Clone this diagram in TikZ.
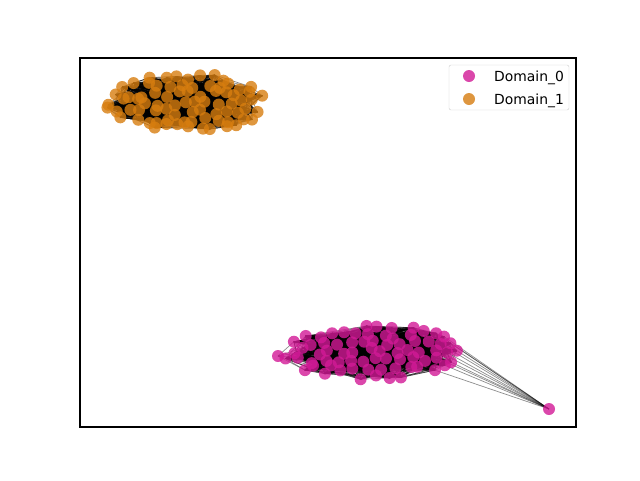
\documentclass[tikz,border=0pt]{standalone}
\usepackage{fontspec}
\setmainfont{DejaVu Sans}
\pgfdeclarelayer{edges}
\pgfsetlayers{edges,main}
\definecolor{domzero}{RGB}{210,25,150}
\definecolor{domone}{RGB}{215,125,15}
\definecolor{legendgray}{RGB}{204,204,204}
\tikzstyle{link} = [black,opacity=0.45,line width=0.7pt]
\newcount\nbcount
\newcount\nmcount

\begin{document}
\begin{tikzpicture}
		[
		x=1pt,y=-1pt,
		dom0/.style={
		circle,
		fill=domzero,
		fill opacity=0.8,
		inner sep=0pt,
		minimum size=12pt},
		dom1/.style={
		circle,
		fill=domone,
		fill opacity=0.8,
		inner sep=0pt,
		minimum size=12pt},
		legendtext/.style={anchor=base west,inner sep=0pt,font=\fontsize{13.9}{16}\selectfont}
		]
		\useasboundingbox (0,0) rectangle (640,480);
		\draw[line width=1.1pt] (80,58) rectangle (576,427);
		\pgfmathsetseed{5}
		% Domain_1 cluster
		\foreach \dy [count=\row] in {-26,-17.5,...,26}
			\foreach \dx in {-87,-75,...,87}{
				\pgfmathsetmacro\px{\dx+6*mod(\row,2)+8*(rnd-0.5)}
				\pgfmathsetmacro\py{\dy+8*(rnd-0.5)}
				\pgfmathparse{(\px/81)^2+(\py/30)^2<=1 ? 1 : 0}
				\ifnum\pgfmathresult=1
					\global\advance\nbcount by 1
					\node[dom1] (b\the\nbcount) at (186+\px,103+\py) {};
				\fi
			}
		\xdef\nbtotal{\the\nbcount}
		\begin{pgfonlayer}{edges}
		\foreach \i in {1,...,\nbtotal}
			\foreach \k in {1,...,28}{
				\pgfmathtruncatemacro\j{random(1,\nbtotal)}
				\draw[link] (b\i.center) -- (b\j.center);
			}
		\end{pgfonlayer}
		% Domain_0 cluster, with its two outer nodes
		\node[dom0] (m0) at (278,356) {};
		\node[dom0] (mx) at (549,409) {};
		\foreach \dy [count=\row] in {-26,-17.5,...,26}
			\foreach \dx in {-95,-82,...,95}{
				\pgfmathsetmacro\px{\dx+6.5*mod(\row,2)+8*(rnd-0.5)}
				\pgfmathsetmacro\py{\dy+8*(rnd-0.5)}
				\pgfmathparse{(\px/92)^2+(\py/29)^2<=1 ? 1 : 0}
				\ifnum\pgfmathresult=1
					\global\advance\nmcount by 1
					\node[dom0] (m\the\nmcount) at (373+\px,352+\py) {};
					\begin{pgfonlayer}{edges}
					\ifdim\px pt>58pt \draw[link] (m\the\nmcount.center) -- (mx.center); \fi
					\ifdim\px pt<-68pt \draw[link] (m\the\nmcount.center) -- (m0.center); \fi
					\end{pgfonlayer}
				\fi
			}
		\xdef\nmtotal{\the\nmcount}
		\begin{pgfonlayer}{edges}
		\foreach \i in {1,...,\nmtotal}
			\foreach \k in {1,...,28}{
				\pgfmathtruncatemacro\j{random(1,\nmtotal)}
				\draw[link] (m\i.center) -- (m\j.center);
			}
		\end{pgfonlayer}
		% legend
		\draw[legendgray,fill=white,fill opacity=0.8,rounded corners=2pt] (449,65) rectangle (569,110);
		\node[dom0] (k0) at (469,76) {};
		\node[dom1] (k1) at (469,99) {};
		\node[legendtext] (t0) at (494,81) {Domain\_0};
		\node[legendtext] (t1) at (494,104) {Domain\_1};
\end{tikzpicture}
\end{document}
